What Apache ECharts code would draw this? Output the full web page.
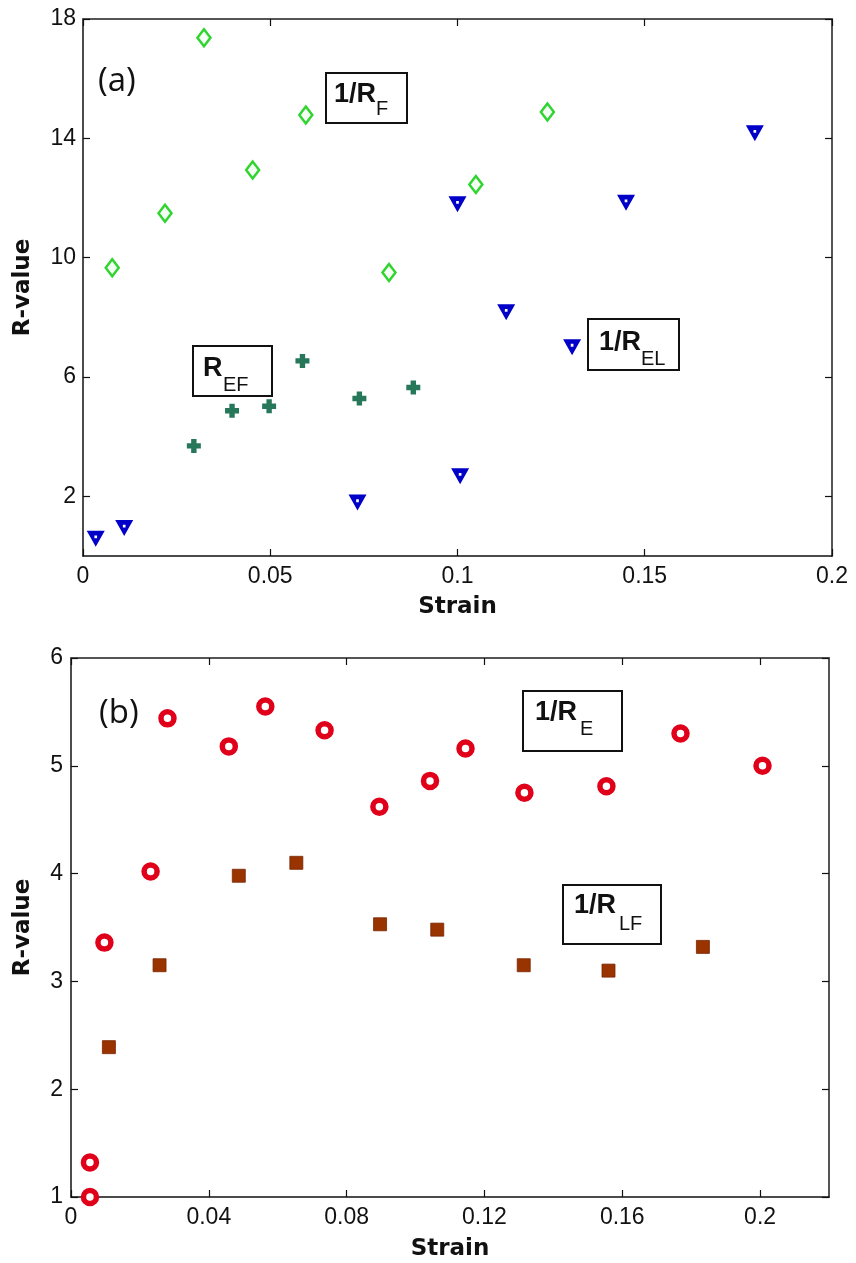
<!DOCTYPE html>
<html>
<head>
<meta charset="utf-8">
<script src="https://cdn.jsdelivr.net/npm/echarts@6/dist/echarts.min.js"></script>
<style>
html,body{margin:0;padding:0;background:#fff;}
#chart{width:856px;height:1263px;}
</style>
</head>
<body>
<div id="chart"></div>
<script>
// ---- Panel (a) data ----
const rfStrain  = [0.0078, 0.0219, 0.0323, 0.0453, 0.0595, 0.0817, 0.1049, 0.1240];
const rfValue   = [9.66, 11.49, 17.37, 12.94, 14.78, 9.50, 12.45, 14.88];
const relStrain = [0.0034, 0.0110, 0.0733, 0.1000, 0.1007, 0.1130, 0.1306, 0.1450, 0.1794];
const relValue  = [0.58, 0.94, 1.79, 11.79, 2.67, 8.17, 7.00, 11.84, 14.17];
const refStrain = [0.0296, 0.0398, 0.0497, 0.0586, 0.0738, 0.0882];
const refValue  = [3.69, 4.87, 5.02, 6.54, 5.28, 5.65];
// ---- Panel (b) data ----
const reStrain  = [0.0055, 0.0055, 0.0097, 0.0231, 0.0280, 0.0458, 0.0564, 0.0736, 0.0895, 0.1042, 0.1145, 0.1316, 0.1554, 0.1769, 0.2007];
const reValue   = [1.00, 1.32, 3.36, 4.02, 5.44, 5.18, 5.55, 5.33, 4.62, 4.86, 5.16, 4.75, 4.81, 5.30, 5.00];
const rlfStrain = [0.0110, 0.0257, 0.0487, 0.0654, 0.0897, 0.1063, 0.1314, 0.1560, 0.1834];
const rlfValue  = [2.39, 3.15, 3.98, 4.10, 3.53, 3.48, 3.15, 3.10, 3.32];
// ---- tick labels ----
const aYTicks = [2, 6, 10, 14, 18];
const bXTicks = [0, 0.04, 0.08, 0.12, 0.16, 0.2];

const zip = (xs, ys) => xs.map((x, i) => [x, ys[i]]);

const tickFont = {fontFamily: 'Liberation Sans', fontSize: 23, color: '#111'};
const nameFont = {fontFamily: 'DejaVu Sans', fontSize: 23, fontWeight: 'bold', color: '#111'};

function baseAxis(extra) {
  return Object.assign({
    type: 'value',
    splitLine: {show: false},
    axisLine: {onZero: false, lineStyle: {color: '#111', width: 1.5}},
    axisTick: {inside: true, length: 7, lineStyle: {color: '#111', width: 1.2}},
    axisLabel: Object.assign({margin: 9}, tickFont)
  }, extra);
}
function mirror(ax, pos) {
  const a = JSON.parse(JSON.stringify(ax));
  a.position = pos;
  a.axisLabel = {show: false};
  if (ax.axisLabel && ax.axisLabel.customValues) a.axisLabel.customValues = ax.axisLabel.customValues;
  a.axisLine.lineStyle.color = '#555';
  a.axisLine.lineStyle.width = 2;
  delete a.name;
  return a;
}

const xa0 = baseAxis({gridIndex: 0, min: 0, max: 0.2, interval: 0.05, position: 'bottom',
  name: 'Strain', nameLocation: 'middle', nameGap: 40, nameTextStyle: nameFont});
const ya0 = baseAxis({gridIndex: 0, min: 0, max: 18, position: 'left',
  axisLabel: Object.assign({margin: 7, customValues: aYTicks}, tickFont),
  axisTick: {inside: true, length: 7, customValues: aYTicks, lineStyle: {color: '#111', width: 1.2}},
  name: 'R-value', nameLocation: 'middle', nameGap: 48, nameTextStyle: nameFont});
const xa1 = baseAxis({gridIndex: 1, min: 0, max: 0.22, position: 'bottom',
  axisLabel: Object.assign({margin: 9, customValues: bXTicks}, tickFont),
  axisTick: {inside: true, length: 7, customValues: bXTicks, lineStyle: {color: '#111', width: 1.2}},
  name: 'Strain', nameLocation: 'middle', nameGap: 41, nameTextStyle: nameFont});
const ya1 = baseAxis({gridIndex: 1, min: 1, max: 6, interval: 1, position: 'left',
  axisLabel: Object.assign({margin: 8}, tickFont),
  name: 'R-value', nameLocation: 'middle', nameGap: 36, nameTextStyle: nameFont});

const triPath = 'path://M0,0L20,0L10,17ZM8.5,5L8.5,8L11.5,8L11.5,5Z';
const crossPath = 'path://M4,0L9,0L9,4L13,4L13,9L9,9L9,13L4,13L4,9L0,9L0,4L4,4Z';

function boxLabel(x, y, w, h, main, sub, mx, my, sx, sy) {
  return [
    {type: 'rect', z: 100, shape: {x: x, y: y, width: w, height: h},
     style: {fill: '#fff', stroke: '#111', lineWidth: 2}},
    {type: 'text', z: 101, x: mx, y: my,
     style: {text: main, font: 'bold 27px "Liberation Sans"', fill: '#111', verticalAlign: 'middle', align: 'left'}},
    {type: 'text', z: 101, x: sx, y: sy,
     style: {text: sub, font: '20px "Liberation Sans"', fill: '#111', verticalAlign: 'middle', align: 'left'}}
  ];
}

const graphics = [].concat(
  boxLabel(326, 73, 81, 50, '1/R', 'F', 334, 95, 376, 109),
  boxLabel(193, 346, 79, 50, 'R', 'EF', 203, 369, 223, 385),
  boxLabel(588, 319, 91, 51, '1/R', 'EL', 599, 343, 641, 359),
  boxLabel(523, 691, 99, 60, '1/R', 'E', 535, 713, 580, 729),
  boxLabel(563, 885, 98, 59, '1/R', 'LF', 574, 906, 619, 924),
  [
    {type: 'text', z: 101, x: 98, y: 82,
     style: {text: '(a)', font: '33px "Open Sans"', fill: '#111', verticalAlign: 'middle', align: 'left'}},
    {type: 'text', z: 101, x: 99, y: 714,
     style: {text: '(b)', font: '33px "Open Sans"', fill: '#111', verticalAlign: 'middle', align: 'left'}}
  ]
);

const option = {
  backgroundColor: '#fff',
  animation: false,
  grid: [
    {left: 83, top: 19, width: 749, height: 537},
    {left: 71, top: 658, width: 758, height: 539}
  ],
  xAxis: [xa0, mirror(xa0, 'top'), xa1, mirror(xa1, 'top')],
  yAxis: [ya0, mirror(ya0, 'right'), ya1, mirror(ya1, 'right')],
  graphic: graphics,
  series: [
    {name: '1/R_F', type: 'scatter', xAxisIndex: 0, yAxisIndex: 0, data: zip(rfStrain, rfValue),
     symbol: 'diamond', symbolSize: [13, 17],
     itemStyle: {opacity: 1, color: '#f4fff4', borderColor: '#2fd42f', borderWidth: 2.5}},
    {name: '1/R_EL', type: 'scatter', xAxisIndex: 0, yAxisIndex: 0, data: zip(relStrain, relValue),
     symbol: triPath, symbolSize: [18, 16],
     itemStyle: {opacity: 1, color: '#0000c8'}},
    {name: 'R_EF', type: 'scatter', xAxisIndex: 0, yAxisIndex: 0, data: zip(refStrain, refValue),
     symbol: crossPath, symbolSize: 14,
     itemStyle: {opacity: 1, color: '#27785a'}},
    {name: '1/R_E', type: 'scatter', xAxisIndex: 2, yAxisIndex: 2, data: zip(reStrain, reValue),
     symbol: 'circle', symbolSize: 13,
     itemStyle: {opacity: 1, color: '#fff', borderColor: '#e0001a', borderWidth: 5.5}},
    {name: '1/R_LF', type: 'scatter', xAxisIndex: 2, yAxisIndex: 2, data: zip(rlfStrain, rlfValue),
     symbol: 'rect', symbolSize: 13,
     itemStyle: {opacity: 1, color: '#993300', borderColor: '#7a2600', borderWidth: 0.8}}
  ]
};

const chart = echarts.init(document.getElementById('chart'), null, {renderer: 'canvas'});
chart.setOption(option);
</script>
</body>
</html>
